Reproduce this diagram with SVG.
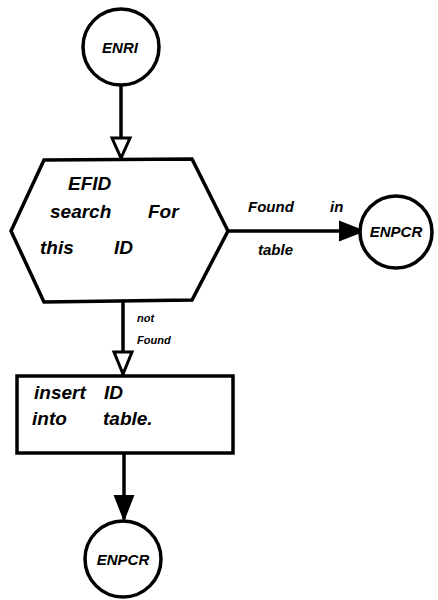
<svg xmlns="http://www.w3.org/2000/svg" width="438" height="600" viewBox="0 0 438 600">
<defs>
<style>
.shape{fill:#fff;stroke:#000;stroke-width:3.5}
.edge{fill:none;stroke:#000;stroke-width:3.5}
.t{font-family:"Liberation Sans",Arial,sans-serif;font-style:italic;font-weight:bold;fill:#000}
.big{font-size:19px}
.sm{font-size:15px}
.xs{font-size:11px}
</style>
</defs>
<rect width="438" height="600" fill="#fff"/>
<g id="connectors">
<line class="edge" x1="121" y1="86" x2="121" y2="158"/>
<polygon points="112,138 130,138 121,158" fill="#fff" stroke="#000" stroke-width="3"/>
<line class="edge" x1="228" y1="231" x2="362" y2="231"/>
<polygon points="340,222 340,240 363,231" fill="#000" stroke="#000" stroke-width="2"/>
<line class="edge" x1="123" y1="302" x2="123" y2="375"/>
<polygon points="114,352 132,352 123,374" fill="#fff" stroke="#000" stroke-width="3"/>
<line class="edge" x1="124" y1="453" x2="124" y2="519"/>
<polygon points="115,496 133,496 124,519" fill="#000" stroke="#000" stroke-width="2"/>
<text class="t sm" y="212"><tspan x="248">Found</tspan><tspan x="330">in</tspan></text>
<text class="t sm" x="258" y="255">table</text>
<text class="t xs" x="137" y="322">not</text>
<text class="t xs" x="137" y="344">Found</text>
</g>
<g id="ENRI">
<circle class="shape" cx="121" cy="47" r="38"/>
<text class="t sm" x="120" y="53" text-anchor="middle" font-size="17">ENRI</text>
</g>
<g id="EFID">
<polygon class="shape" points="44,160 192,159 228,231 192,300 44,302 11,231"/>
<text class="t big" x="68" y="190">EFID</text>
<text class="t big" y="218"><tspan x="50">search</tspan><tspan x="148">For</tspan></text>
<text class="t big" y="254"><tspan x="40">this</tspan><tspan x="114">ID</tspan></text>
</g>
<g id="ENPCR1">
<circle class="shape" cx="396" cy="232" r="36"/>
<text class="t sm" x="396" y="237" text-anchor="middle">ENPCR</text>
</g>
<g id="insert">
<rect class="shape" x="17" y="376" width="216" height="77"/>
<text class="t big" y="399"><tspan x="34">insert</tspan><tspan x="104">ID</tspan></text>
<text class="t big" y="425"><tspan x="32">into</tspan><tspan x="103">table.</tspan></text>
</g>
<g id="ENPCR2">
<circle class="shape" cx="123" cy="559" r="38"/>
<text class="t sm" x="123" y="565" text-anchor="middle">ENPCR</text>
</g>
</svg>
